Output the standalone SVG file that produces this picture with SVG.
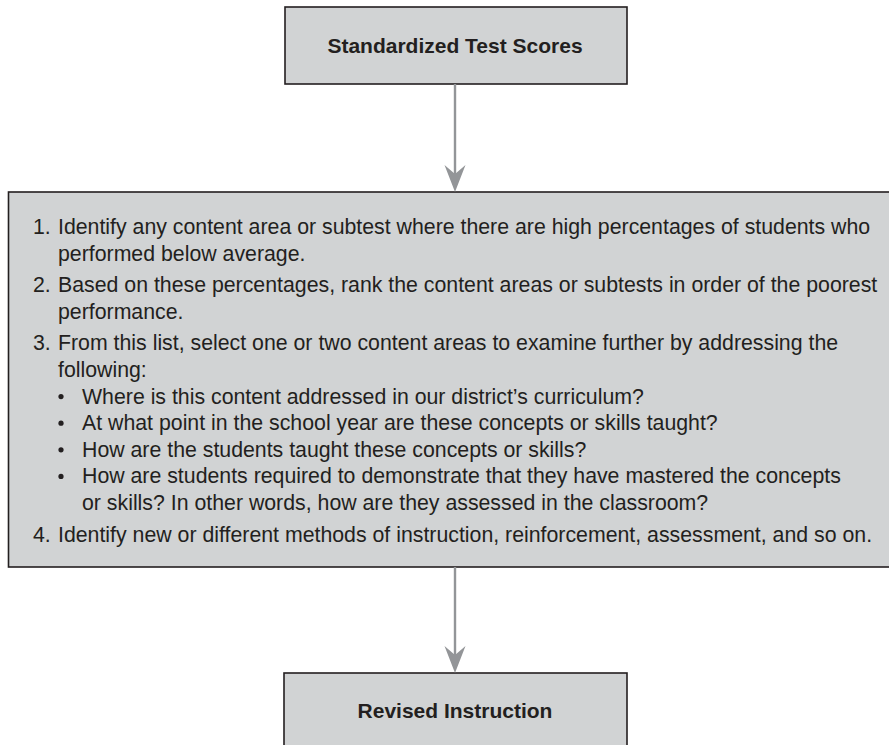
<svg xmlns="http://www.w3.org/2000/svg" width="889" height="745" viewBox="0 0 889 745">
  <style>
    .box { fill: #d1d3d4; stroke: #231f20; stroke-width: 1.6; }
    .title { font-family: "Liberation Sans", Arial, sans-serif; font-weight: bold; font-size: 21px; fill: #231f20; text-anchor: middle; }
    .body { font-family: "Liberation Sans", Arial, sans-serif; font-size: 21.3px; fill: #231f20; }
    .link { stroke: #939598; stroke-width: 2.4; fill: none; }
    .head { fill: #939598; }
  </style>
  <rect width="889" height="745" fill="#ffffff"/>

  <g id="scores">
    <rect class="box" x="285" y="7" width="342" height="77"/>
    <text class="title" x="455" y="53">Standardized Test Scores</text>
  </g>

  <g id="analysis">
    <rect class="box" x="8.5" y="192" width="900" height="375"/>
    <g class="body">
      <text x="33" y="234">1.</text>
      <text x="58" y="234">Identify any content area or subtest where there are high percentages of students who</text>
      <text x="58" y="260.6">performed below average.</text>
      <text x="33" y="292.2">2.</text>
      <text x="58" y="292.2">Based on these percentages, rank the content areas or subtests in order of the poorest</text>
      <text x="58" y="318.8">performance.</text>
      <text x="33" y="350.4">3.</text>
      <text x="58" y="350.4">From this list, select one or two content areas to examine further by addressing the</text>
      <text x="58" y="377">following:</text>
      <text x="82" y="403.6">Where is this content addressed in our district’s curriculum?</text>
      <text x="82" y="430.2">At what point in the school year are these concepts or skills taught?</text>
      <text x="82" y="456.8">How are the students taught these concepts or skills?</text>
      <text x="82" y="483.4">How are students required to demonstrate that they have mastered the concepts</text>
      <text x="82" y="510">or skills? In other words, how are they assessed in the classroom?</text>
      <text x="33" y="541.6">4.</text>
      <text x="58" y="541.6">Identify new or different methods of instruction, reinforcement, assessment, and so on.</text>
    </g>
    <!-- bullet markers for the sub-questions under item 3 -->
    <g fill="#231f20">
      <circle cx="61" cy="396.6" r="2.6"/>
      <circle cx="61" cy="423.2" r="2.6"/>
      <circle cx="61" cy="449.8" r="2.6"/>
      <circle cx="61" cy="476.4" r="2.6"/>
    </g>
  </g>

  <g id="revised">
    <rect class="box" x="284" y="673" width="343" height="90"/>
    <text class="title" x="455" y="718">Revised Instruction</text>
  </g>

  <g id="connectors">
    <line class="link" x1="455" y1="84" x2="455" y2="176"/>
    <polygon class="head" points="455,192 444.5,165 455,174 465.5,165"/>
    <line class="link" x1="455" y1="567" x2="455" y2="657"/>
    <polygon class="head" points="455,673 444.5,646 455,655 465.5,646"/>
  </g>
</svg>
